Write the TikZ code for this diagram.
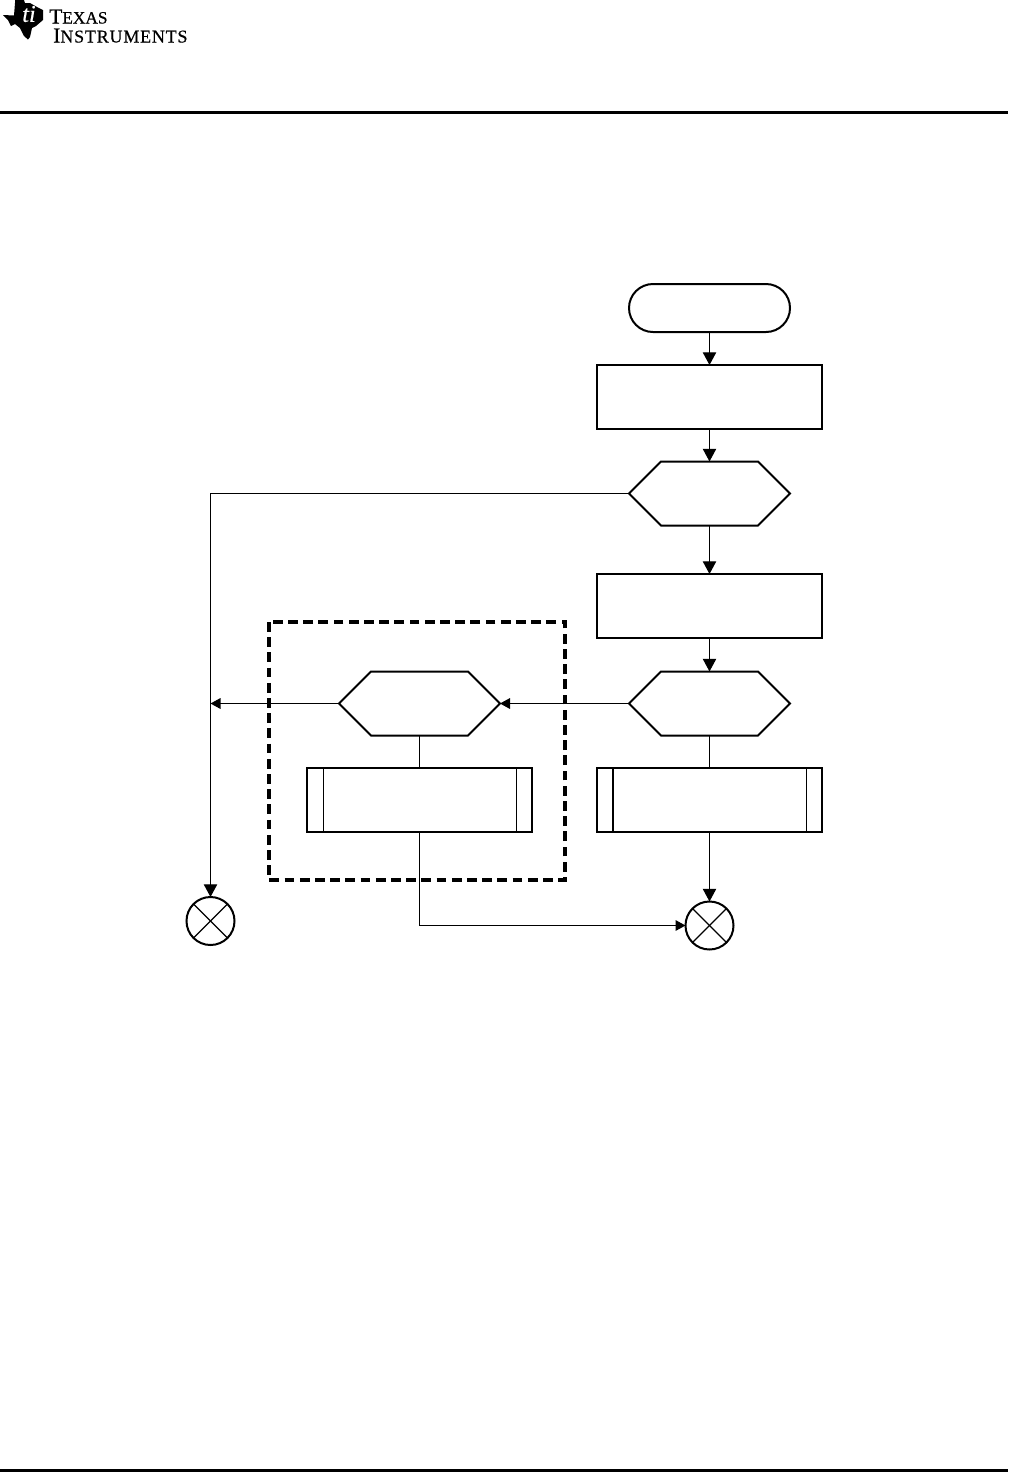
\documentclass[tikz,border=0pt]{standalone}
\usepackage{fontspec}
\setmainfont{Liberation Serif}
\newfontfamily\logofont[FakeBold=0.5]{Liberation Serif}
\newfontfamily\logowide[FakeBold=0.5,LetterSpace=4.4]{Liberation Serif}
\usetikzlibrary{arrows.meta,shapes.misc,shapes.symbols}

\tikzset{
  startbox/.style={draw, rounded rectangle, line width=1.5pt, minimum width=120.75pt, minimum height=36pt, inner sep=0pt, outer sep=0pt},
  procbox/.style={draw, rectangle, line width=1.5pt, minimum width=168.75pt, minimum height=48pt, inner sep=0pt, outer sep=0pt},
  decbox/.style={draw, signal, signal from=nowhere, signal to=east and west, signal pointer angle=90, line width=1.5pt, minimum width=120.75pt, minimum height=48pt, inner sep=0pt, outer sep=0pt},
  endbox/.style={draw, circle, line width=1.5pt, minimum size=36pt, inner sep=0pt, outer sep=0pt},
  conn/.style={line width=0.85pt},
  bigtip/.style={-{Triangle[length=9.5pt,width=10pt]}},
  smalltip/.style={-{Triangle[length=7.5pt,width=8pt]}},
}

\begin{document}
\begin{tikzpicture}[x=0.75pt, y=-0.75pt]
\useasboundingbox (0,0) rectangle (1008,1472);

% page rules
\fill (0,110.5) rectangle (1008,113.5);
\fill (0,1469) rectangle (1008,1472);

% logo
\fill (3,15) -- (14,15.5) -- (15,3) -- (15,0) -- (24,0) -- (25,3) -- (30,3) -- (37,7) -- (43,10) -- (43,20)
  -- (36,26) -- (32,28) -- (30,37) -- (28,39.5) -- (24,36) -- (20,28) -- (15,24) -- (11,26) -- (8,20) -- cycle;
\node[white, inner sep=0pt, font=\logofont\itshape\fontsize{18}{18}\selectfont] (logoti) at (29,14) {ti};
\node[anchor=base west, inner sep=0pt, font=\logofont\fontsize{13}{13}\selectfont] (logotop) at (49,23.5)
  {{\fontsize{16}{16}\selectfont T}EXAS};
\node[anchor=base west, inner sep=0pt, font=\logowide\fontsize{13.5}{13.5}\selectfont] (logobot) at (53,42.5)
  {{\fontsize{16}{16}\selectfont I}NSTRUMENTS};

% dashed group
\draw[line width=2.5pt, dash pattern=on 7.4pt off 4pt] (269,622) rectangle (565,880);

% right column
\node[startbox] (start) at (709.5,308) {};
\node[procbox] (first) at (709.5,397) {};
\node[decbox] (decone) at (709.5,493.5) {};
\node[procbox] (second) at (709.5,606) {};
\node[decbox] (dectwo) at (709.5,703.5) {};
\node[procbox] (subright) at (709.5,800) {};
\node[endbox] (endright) at (709.5,925.5) {};

% left column
\node[decbox] (decthree) at (419.5,703.5) {};
\node[procbox] (subleft) at (419.5,800) {};
\node[endbox] (endleft) at (210.5,921) {};
\coordinate (joinleft) at (endleft |- dectwo);
\coordinate (cornerleft) at (endleft |- decone);
\coordinate (cornerright) at (subleft |- endright);

% subroutine bars
\draw[conn] ([xshift=12.375pt]subleft.north west) -- ([xshift=12.375pt]subleft.south west);
\draw[conn] ([xshift=-11.625pt]subleft.north east) -- ([xshift=-11.625pt]subleft.south east);
\draw[line width=1.5pt] ([xshift=12pt]subright.north west) -- ([xshift=12pt]subright.south west);
\draw[conn] ([xshift=-11.625pt]subright.north east) -- ([xshift=-11.625pt]subright.south east);

% crosses
\foreach \nd in {endleft,endright}
{
  \draw[conn] (\nd.45) -- (\nd.225);
  \draw[conn] (\nd.135) -- (\nd.315);
}

% connectors
\draw[conn, bigtip] (start) -- (first);
\draw[conn, bigtip] (first) -- (decone);
\draw[conn, bigtip] (decone) -- (second);
\draw[conn, bigtip] (second) -- (dectwo);
\draw[conn] (dectwo) -- (subright);
\draw[conn, bigtip] (subright) -- (endright);
\draw[conn, smalltip] (dectwo) -- (decthree);
\draw[conn] (decthree) -- (subleft);
\draw[conn, smalltip] (decthree) -- (joinleft);
\draw[conn, bigtip] (decone) -- (cornerleft) -- (endleft);
\draw[conn, smalltip] (subleft) -- (cornerright) -- (endright);

\end{tikzpicture}
\end{document}
